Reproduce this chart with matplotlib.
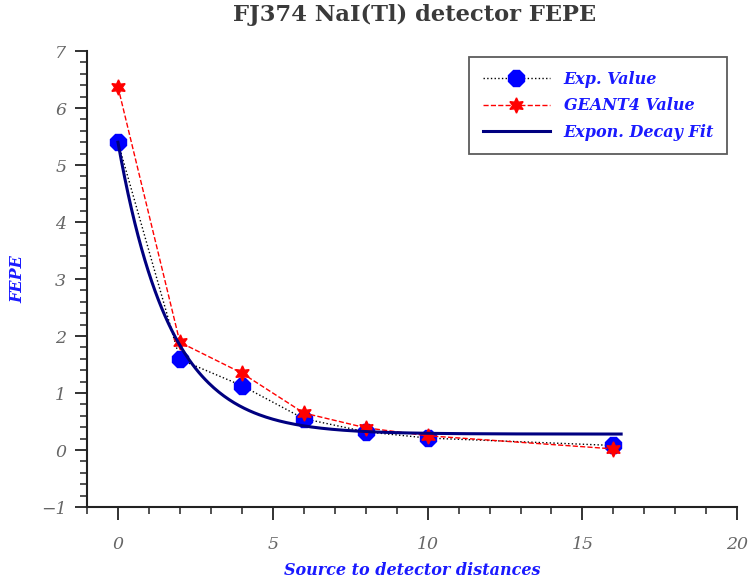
import matplotlib
matplotlib.use('Agg')
import matplotlib.pyplot as plt
import numpy as np

#%% Data
distance = [0, 2, 4, 6, 8, 10, 16]
exp_value = [5.40, 1.59, 1.13, 0.55, 0.32, 0.21, 0.08]
geant4_value = [6.37, 1.89, 1.35, 0.65, 0.39, 0.25, 0.02]

# exponential decay fit  y = y0 + A*exp(-x/t)
fit_y0, fit_A, fit_t = 0.28, 5.12, 1.68
fit_xmax = 16.25

#%% Plot
plt.rcParams['font.family'] = ['DejaVu Serif']
fig = plt.figure(figsize=(7.5, 5.85), dpi=100)
ax = fig.add_axes([0.116, 0.1333, 0.867, 0.7795])

x_fit = np.linspace(0, fit_xmax, 300)
y_fit = fit_y0 + fit_A*np.exp(-x_fit/fit_t)

ax.plot(distance, exp_value, color='black', linestyle=':', linewidth=1,
        marker='8', markersize=12, markerfacecolor='blue', markeredgecolor='blue',
        label='Exp. Value')
ax.plot(distance, geant4_value, color='red', linestyle='--', linewidth=1,
        marker=(6, 1, 0), markersize=11, markerfacecolor='red', markeredgecolor='red',
        label='GEANT4 Value')
ax.plot(x_fit, y_fit, color='#000080', linewidth=2.2, label='Expon. Decay Fit')

ax.set_xlim(-1, 20)
ax.set_ylim(-1, 7)
ax.set_xticks([0, 5, 10, 15, 20])
ax.set_xticks(np.arange(-1, 21, 1), minor=True)
ax.set_yticks(np.arange(-1, 8, 1))
ax.set_yticks(np.arange(-1, 7.01, 0.2), minor=True)

for side in ['top', 'right']:
    ax.spines[side].set_visible(False)
for side in ['left', 'bottom']:
    ax.spines[side].set_linewidth(1.5)
    ax.spines[side].set_color('#222222')

ax.tick_params(which='major', length=9, width=1.3, color='#222222')
ax.tick_params(which='minor', length=5, width=1.1, color='#222222')
ax.tick_params(axis='x', which='major', pad=12)
ax.tick_params(axis='y', which='major', pad=6)
ax.set_yticklabels(['\u22121', '0', '1', '2', '3', '4', '5', '6', '7'])
for lab in ax.get_xticklabels() + ax.get_yticklabels():
    lab.set_fontstyle('italic')
    lab.set_color('#666666')
    lab.set_fontsize(12.5)

ax.set_xlabel('Source to detector distances', fontsize=11.5, fontweight='bold',
              fontstyle='italic', color='#1a1aff', labelpad=6)
ax.set_ylabel('FEPE', fontsize=11.5, fontweight='bold', fontstyle='italic',
              color='#1a1aff', labelpad=10)
fig.suptitle('FJ374 NaI(Tl) detector FEPE', x=0.553, y=0.993, fontsize=16.3,
             fontweight='bold', color='#3a3a3a')

leg = ax.legend(loc='upper right', bbox_to_anchor=(0.985, 0.987), frameon=True,
                fancybox=False, edgecolor='#333333', handlelength=4.2,
                handletextpad=0.85,
                prop={'weight': 'bold', 'style': 'italic', 'size': 11.5},
                labelspacing=0.6, borderpad=0.85, borderaxespad=0)
leg.get_frame().set_linewidth(1.3)
for t in leg.get_texts():
    t.set_color('#1a1aff')

fig.savefig('out.png', dpi=100)
